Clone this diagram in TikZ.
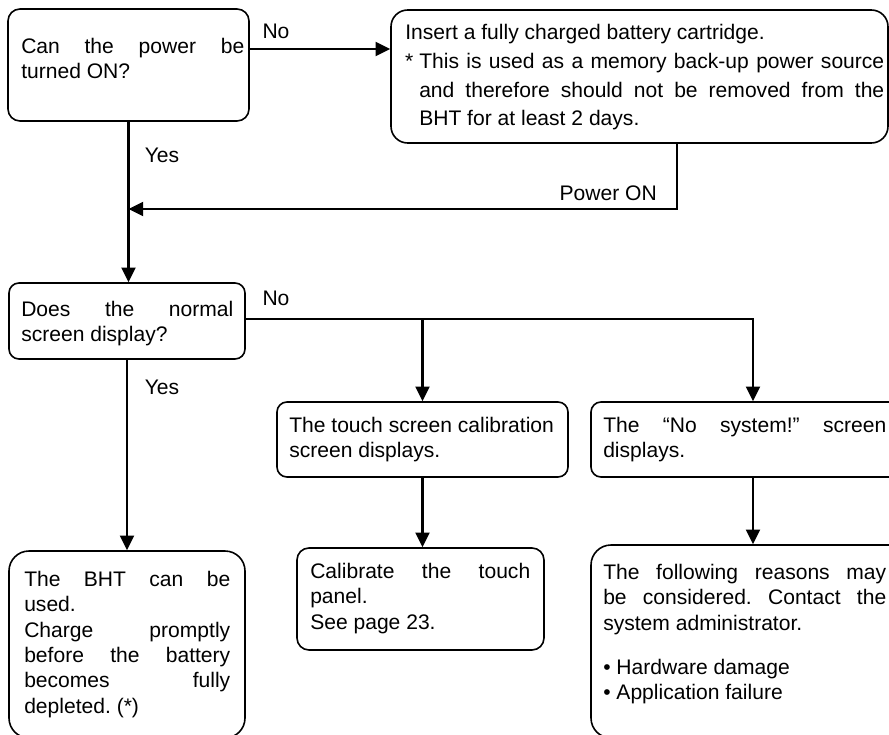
\documentclass[tikz,border=0pt]{standalone}
\usepackage{fontspec}
\setmainfont{Liberation Sans}
\frenchspacing
\usetikzlibrary{arrows.meta,fit}
\begin{document}
\begin{tikzpicture}[x=0.75pt,y=-0.75pt,
  bx/.style={draw, line width=1.2pt, inner sep=0pt, rounded corners=#1},
  bx/.default=9pt,
  txt/.style={inner sep=0pt, anchor=north west, align=justify, font=\fontsize{15.8}{19}\selectfont\frenchspacing},
  lbl/.style={inner sep=0pt, font=\fontsize{15.8}{19}\selectfont},
  conn/.style={line width=1.7pt},
  arr/.style={conn, -{Triangle[length=11pt,width=10.5pt]}}
]
\useasboundingbox (0,0) rectangle (889,735);
\clip (0,0) rectangle (889,735);

% boxes
\node[bx=9pt,  fit={(8,9) (249,121)}] (A) {};
\node[bx=12.5pt, fit={(391,10) (888,143)}] (B) {};
\node[bx=7.5pt, fit={(9,283) (245,359)}] (C) {};
\node[bx=7.5pt, fit={(277,402) (568,477)}] (D) {};
\node[bx=7.5pt, fit={(591,402) (915,477)}] (E) {};
\node[bx=9pt,  fit={(297,548) (544,650)}] (F) {};
\node[bx=15pt, fit={(9,551) (245,738)}] (G) {};
\node[bx=15pt, fit={(591,545) (915,738)}] (H) {};

% texts
\node[txt, text width=223*0.75pt] (At) at (21,38) {Can the power be\linebreak turned ON?};
\node[txt, align=left] (Bt1) at (405,24) {Insert a fully charged battery cartridge.};
\node[txt, text width=465*0.75pt, font=\fontsize{15.8}{21.4}\selectfont\frenchspacing] (Bt2) at (419,53)
  {\llap{*~}This is used as a memory back-up power source\linebreak and therefore should not be removed from the\linebreak BHT for at least 2 days.};
\node[txt, text width=212*0.75pt] (Ct) at (21,301) {Does the normal\linebreak screen display?};
\node[txt, align=left] (Dt) at (289,417) {The touch screen calibration\\screen displays.};
\node[txt, text width=283*0.75pt] (Et) at (603,417) {The “No system!” screen\linebreak displays.};
\node[txt, text width=220*0.75pt] (Ft) at (310,563) {Calibrate the touch\linebreak panel.\\See page 23.};
\node[txt, text width=206*0.75pt] (Gt) at (24,571) {The BHT can be\linebreak used.\\Charge promptly\linebreak before the battery\linebreak becomes fully\linebreak depleted. (*)};
\node[txt, text width=283*0.75pt] (Ht) at (603,564) {The following reasons may\linebreak be considered. Contact the\linebreak system administrator.\\[14pt]• Hardware damage\\• Application failure};

% labels
\node[lbl] (No1) at (276,31) {No};
\node[lbl] (Yes1) at (162,155) {Yes};
\node[lbl, anchor=east] (Pon) at (657,193) {Power ON};
\node[lbl] (No2) at (276,298) {No};
\node[lbl] (Yes2) at (162,387) {Yes};

% helper coordinates
\coordinate (yNo1) at (0,49);
\coordinate (loopx) at (677,0);
\coordinate (yLoop) at (0,209);
\coordinate (yNo2) at (0,319);

% connectors
\draw[arr] (A.east |- yNo1) -- (B.west |- yNo1);
\draw[arr] (A.south) -- (A.south |- C.north);
\draw[arr] (B.south -| loopx) -- (loopx |- yLoop) -- (A.south |- yLoop);
\draw[arr] (C.east |- yNo2) -- (E.north |- yNo2) -- (E.north);
\draw[arr] (D.north |- yNo2) -- (D.north);
\draw[arr] (D.south) -- (D.south |- F.north);
\draw[arr] (E.south) -- (E.south |- H.north);
\draw[arr] (C.south) -- (C.south |- G.north);
\end{tikzpicture}
\end{document}
